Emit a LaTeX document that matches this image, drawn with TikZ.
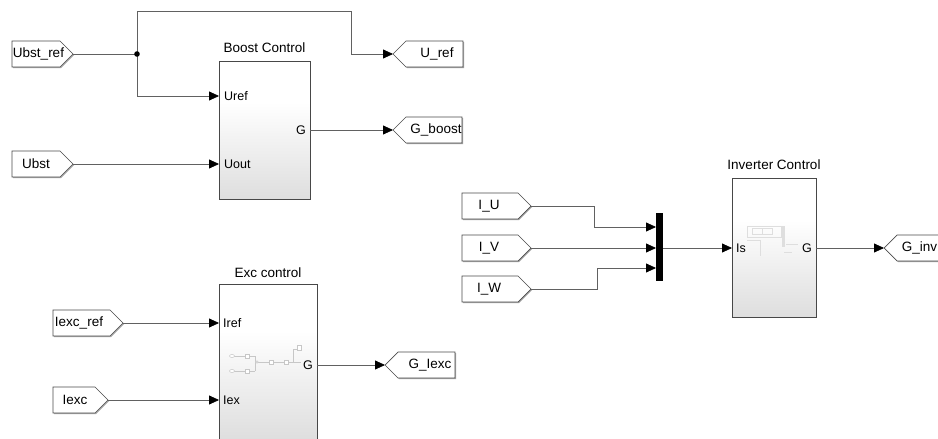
\documentclass[tikz,border=0pt]{standalone}
\usepackage{fontspec}
\setmainfont{Liberation Sans}
\usetikzlibrary{arrows.meta,shadows}
\pgfdeclareverticalshading{blockshade}{100bp}{color(0bp)=(black!13); color(25bp)=(black!13); color(60bp)=(white); color(100bp)=(white)}
\tikzset{
  wire/.style={draw=black!62, line width=0.75pt},
  arr/.style={wire, -{Triangle[length=10pt,width=9pt,black]}},
  blockbox/.style={draw=black!72, line width=0.8pt, shading=blockshade, inner sep=0pt, outer sep=0pt, anchor=north west,
    drop shadow={shadow xshift=1.3pt, shadow yshift=-1.3pt, fill=black!40, opacity=1}},
  tagshape/.style={draw=black!70, line width=0.7pt, fill=white,
    drop shadow={shadow xshift=1.1pt, shadow yshift=-1.1pt, fill=black!35, opacity=1}},
  tagtext/.style={inner sep=0pt, font=\fontsize{13.5}{16}\selectfont},
  titletext/.style={inner sep=0pt, anchor=base, font=\fontsize{13.5}{16}\selectfont},
  porttext/.style={inner sep=0pt, font=\fontsize{12.5}{15}\selectfont},
  thumb/.style={draw=black!22, line width=0.5pt},
  thumbfaint/.style={draw=black!13, line width=0.5pt},
}
% from-tag pointing right: name, left x, tip x, centre y, text centre x, text
\newcommand{\fromtag}[6]{%
  \draw[tagshape] (#2,#4-13) -- ({#3-13},#4-13) -- (#3,#4) -- ({#3-13},#4+13) -- (#2,#4+13) -- cycle;
  \node[tagtext] (#1) at (#5,#4) {#6};
  \coordinate (#1-p) at (#3,#4);
}
% goto-tag pointing left: name, tip x, right x, centre y, text centre x, text
\newcommand{\gototag}[6]{%
  \draw[tagshape] (#2,#4) -- ({#2+13},#4-13) -- (#3,#4-13) -- (#3,#4+13) -- ({#2+13},#4+13) -- cycle;
  \node[tagtext] (#1) at (#5,#4) {#6};
  \coordinate (#1-p) at (#2,#4);
}
\begin{document}
\begin{tikzpicture}[x=1pt,y=-1pt]
\useasboundingbox (0,0) rectangle (938,439);
\clip (0,0) rectangle (938,439);
\fill[white] (0,0) rectangle (938,439);

% ---- Blocks ----
\node[blockbox, minimum width=91pt, minimum height=138pt] (boost) at (219,61) {};
\node[titletext] (boosttitle) at (264.5,52) {Boost Control};
\node[porttext, anchor=west] (boostUref) at (224,96) {Uref};
\node[porttext, anchor=west] (boostUout) at (224,164) {Uout};
\node[porttext, anchor=east] (boostG) at (306,130) {G};

\node[blockbox, minimum width=98pt, minimum height=156pt] (exc) at (219,284) {};
\node[titletext] (exctitle) at (268,277) {Exc control};
\node[porttext, anchor=west] (excIref) at (223,323) {Iref};
\node[porttext, anchor=west] (excIex) at (223,400) {Iex};
\node[porttext, anchor=east] (excG) at (313,365) {G};

\node[blockbox, minimum width=84pt, minimum height=139pt] (inv) at (732,178) {};
\node[titletext] (invtitle) at (774,169) {Inverter Control};
\node[porttext, anchor=west] (invIs) at (736,248) {Is};
\node[porttext, anchor=east] (invG) at (812,248) {G};

% faint thumbnail inside Exc control
\draw[thumb] (232,356) -- (255,356) (232,371) -- (255,371) (255,356) -- (255,371)
  (257,362) -- (293,362) (293,362) -- (293,349) -- (299,349) (293,362) -- (301,362);
\draw[thumb, fill=white] (232,356) ellipse (2.5 and 1.5) (232,371) ellipse (2.5 and 1.5) (257,362) circle (1.3);
\draw[thumb, fill=white] (245,354) rectangle (249,358) (245,369) rectangle (249,373)
  (269,360) rectangle (273,364) (284,360) rectangle (288,364) (297,345) rectangle (301,350);
% faint thumbnail inside Inverter Control
\draw[thumbfaint] (747,226) rectangle (781,237) (752,228) rectangle (772,234) (762,228) -- (762,234)
  (781,231) -- (784,231) (786,244) -- (798,244) (747,240) -- (760,240) -- (760,256)
  (784,252) -- (792,252);
\fill[black!13] (782,226) rectangle (784.5,247);

% ---- Tags ----
\fromtag{ubstref}{12}{73}{54}{38.5}{Ubst\_ref}
\fromtag{ubst}{12}{73}{164}{36}{Ubst}
\fromtag{iexcref}{53}{123}{323}{79}{Iexc\_ref}
\fromtag{iexc}{53}{108}{400}{75}{Iexc}
\fromtag{iu}{462}{531}{206}{489}{I\_U}
\fromtag{iv}{462}{531}{248}{489}{I\_V}
\fromtag{iw}{462}{531}{289}{489}{I\_W}

\gototag{uref}{393}{463}{54}{437}{U\_ref}
\gototag{gboost}{393}{462}{130}{436}{G\_boost}
\gototag{giexc}{385}{455}{365}{430}{G\_Iexc}
\gototag{ginv}{884}{960}{248}{919.5}{G\_inv}

% ---- Mux ----
\node[fill=black, inner sep=0pt, minimum width=7pt, minimum height=68pt] (mux) at (659.5,247) {};

% ---- Coordinates for ports ----
\coordinate (junc) at (137,54);
\coordinate (boostInA) at (219,96);
\coordinate (boostInB) at (219,164);
\coordinate (boostOut) at (310,130);
\coordinate (excInA) at (219,323);
\coordinate (excInB) at (219,400);
\coordinate (excOut) at (317,365);
\coordinate (muxInA) at (656,227);
\coordinate (muxInB) at (656,248);
\coordinate (muxInC) at (656,268);
\coordinate (muxOut) at (663,248);
\coordinate (invIn) at (732,248);
\coordinate (invOut) at (816,248);

% ---- Connectors ----
\draw[wire] (ubstref-p) -- (junc);
\draw[arr] (junc) -- (137,11) -- (351,11) -- (351,54) -- (uref-p);
\draw[arr] (junc) |- (boostInA);
\draw[arr] (ubst-p) -- (boostInB);
\draw[arr] (boostOut) -- (gboost-p);
\draw[arr] (iexcref-p) -- (excInA);
\draw[arr] (iexc-p) -- (excInB);
\draw[arr] (excOut) -- (giexc-p);
\draw[arr] (iu-p) -- (594,206) |- (muxInA);
\draw[arr] (iv-p) -- (muxInB);
\draw[arr] (iw-p) -- (597,289) |- (muxInC);
\draw[arr] (muxOut) -- (invIn);
\draw[arr] (invOut) -- (ginv-p);
\fill[black] (junc) circle (2.8);
\end{tikzpicture}
\end{document}
